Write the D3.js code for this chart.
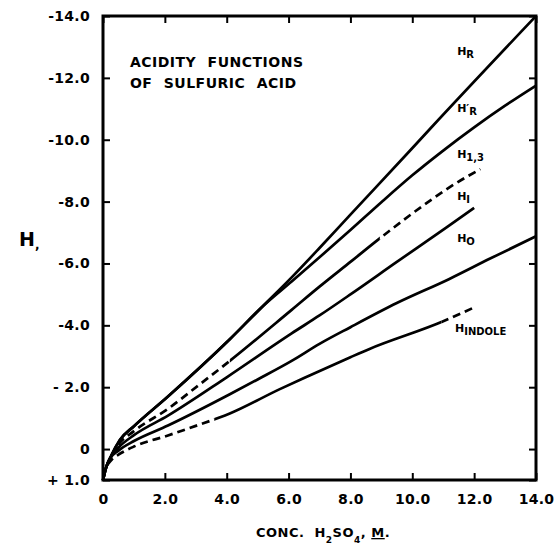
<!DOCTYPE html>
<html>
<head>
<meta charset="utf-8">
<script src="https://cdn.jsdelivr.net/npm/d3@7"></script>
<style>
  html, body { margin: 0; padding: 0; background: #fff; }
  svg { display: block; font-family: "DejaVu Sans", sans-serif; font-weight: bold; }
</style>
</head>
<body>
<svg id="chart" width="555" height="548"></svg>
<script>
// axis ticks
const xTicks = [0, 2, 4, 6, 8, 10, 12, 14];
const xTickLabels = ['0', '2.0', '4.0', '6.0', '8.0', '10.0', '12.0', '14.0'];
const yTicks = [-14, -12, -10, -8, -6, -4, -2, 0, 1];
const yTickLabels = ['-14.0', '-12.0', '-10.0', '-8.0', '-6.0', '-4.0', '- 2.0', '0', '+ 1.0'];

// acidity functions (conc. in M, H value)
const concR = [0, 0.1, 0.25, 0.55, 1.0, 2.1, 4.1, 5.2, 6.1, 7.0, 8.0, 9.9, 10.6, 14.0];
const hR = [1.0, 0.6, 0.25, -0.3, -0.74, -1.7, -3.55, -4.65, -5.55, -6.5, -7.58, -9.62, -10.38, -14.0];

const concRp = [0, 0.1, 0.25, 0.55, 1.0, 2.1, 4.1, 5.2, 6.1, 7.0, 8.0, 9.0, 10.0, 11.0, 12.0, 13.0, 14.0];
const hRp = [1.0, 0.6, 0.25, -0.3, -0.74, -1.7, -3.55, -4.65, -5.42, -6.2, -7.08, -7.98, -8.85, -9.65, -10.4, -11.1, -11.75];

const conc13 = [0, 0.1, 0.25, 0.5, 1.0, 2.1, 3.1, 4.1, 6.1, 7.0, 8.0, 9.0, 10.6, 11.2, 12.2];
const h13 = [1.0, 0.6, 0.25, -0.15, -0.58, -1.3, -2.07, -2.85, -4.5, -5.25, -6.05, -6.85, -8.05, -8.46, -9.05];

const concI = [0, 0.1, 0.25, 0.5, 1.0, 2.1, 4.0, 6.1, 7.0, 8.0, 9.5, 11.2, 12.0];
const hI = [1.0, 0.6, 0.25, -0.05, -0.45, -1.08, -2.32, -3.74, -4.32, -5.0, -6.05, -7.23, -7.8];

const concO = [0, 0.1, 0.25, 0.5, 1.0, 2.1, 4.1, 5.0, 6.1, 7.0, 8.0, 9.5, 11.2, 12.5, 14.0];
const hO = [1.0, 0.6, 0.28, 0.05, -0.26, -0.76, -1.77, -2.25, -2.85, -3.4, -3.94, -4.72, -5.5, -6.15, -6.88];

const concInd = [0.15, 0.3, 0.5, 1.0, 2.1, 3.0, 4.1, 5.7, 6.5, 8.0, 8.6, 11.0, 12.0];
const hInd = [0.5, 0.32, 0.18, -0.08, -0.44, -0.75, -1.15, -1.93, -2.3, -2.97, -3.23, -4.13, -4.58];

const series = [
  { x: concR, y: hR, dashed: [] },
  { x: concRp, y: hRp, dashed: [] },
  { x: conc13, y: h13, dashed: [[0, 4.1], [8.95, 12.3]] },
  { x: concI, y: hI, dashed: [] },
  { x: concO, y: hO, dashed: [] },
  { x: concInd, y: hInd, dashed: [[0, 3.6], [10.95, 12.2]] }
];

const width = 555;
const height = 548;
const margin = { top: 16, right: 19, bottom: 68, left: 103 };

const svg = d3.select('#chart');

const x = d3.scaleLinear().domain([0, 14]).range([margin.left, width - margin.right]);
const y = d3.scaleLinear().domain([1, -14]).range([height - margin.bottom, margin.top]);

// axes with inner ticks
svg.append('g')
  .attr('transform', `translate(0,${height - margin.bottom})`)
  .call(d3.axisBottom(x).tickValues(xTicks).tickSize(-7).tickPadding(14)
    .tickFormat((d, i) => xTickLabels[i]));

svg.append('g')
  .attr('transform', `translate(${margin.left},0)`)
  .call(d3.axisLeft(y).tickValues(yTicks).tickSize(-7).tickPadding(13)
    .tickFormat((d, i) => yTickLabels[i]));

svg.append('g')
  .attr('transform', `translate(0,${margin.top})`)
  .call(d3.axisTop(x).tickValues(xTicks).tickSize(-7).tickFormat(''));

svg.append('g')
  .attr('transform', `translate(${width - margin.right},0)`)
  .call(d3.axisRight(y).tickValues(yTicks).tickSize(-7).tickFormat(''));

svg.selectAll('.domain').remove();
svg.selectAll('.tick line').attr('stroke', '#000').attr('stroke-width', 2);
svg.selectAll('.tick text')
  .attr('fill', '#000')
  .attr('font-size', 14)
  .attr('letter-spacing', 0.3)
  .attr('font-family', '"DejaVu Sans", sans-serif')
  .attr('font-weight', 'bold');

// frame
svg.append('rect')
  .attr('x', margin.left)
  .attr('y', margin.top)
  .attr('width', width - margin.left - margin.right)
  .attr('height', height - margin.top - margin.bottom)
  .attr('fill', 'none')
  .attr('stroke', '#000')
  .attr('stroke-width', 3);

// clip paths for solid / dashed parts
const defs = svg.append('defs');
const plotTop = margin.top - 5;
const plotH = height - margin.top - margin.bottom + 10;

const line = d3.line()
  .x((d) => x(d[0]))
  .y((d) => y(d[1]))
  .curve(d3.curveMonotoneX);

series.forEach((s, i) => {
  const pts = s.x.map((v, j) => [v, s.y[j]]);
  // solid ranges are the gaps between dashed ranges
  const solid = [];
  let start = -1;
  s.dashed.forEach((r) => {
    solid.push([start, r[0]]);
    start = r[1];
  });
  solid.push([start, 15]);

  const solidClip = defs.append('clipPath').attr('id', `solid${i}`);
  solid.forEach((r) => {
    solidClip.append('rect')
      .attr('x', x(r[0])).attr('y', plotTop)
      .attr('width', x(r[1]) - x(r[0])).attr('height', plotH);
  });
  svg.append('path')
    .datum(pts)
    .attr('d', line)
    .attr('fill', 'none')
    .attr('stroke', '#000')
    .attr('stroke-width', 2.7)
    .attr('clip-path', `url(#solid${i})`);

  if (s.dashed.length) {
    const dashClip = defs.append('clipPath').attr('id', `dash${i}`);
    s.dashed.forEach((r) => {
      dashClip.append('rect')
        .attr('x', x(r[0])).attr('y', plotTop)
        .attr('width', x(r[1]) - x(r[0])).attr('height', plotH);
    });
    svg.append('path')
      .datum(pts)
      .attr('d', line)
      .attr('fill', 'none')
      .attr('stroke', '#000')
      .attr('stroke-width', 2.7)
      .attr('stroke-dasharray', '8,5')
      .attr('clip-path', `url(#dash${i})`);
  }
});

// curve labels: main letter + subscript
const labels = [
  { x: 11.45, y: -12.74, main: 'H', sub: 'R' },
  { x: 11.45, y: -10.9, main: 'H\u2032', sub: 'R' },
  { x: 11.45, y: -9.42, main: 'H', sub: '1,3' },
  { x: 11.45, y: -8.06, main: 'H', sub: 'I' },
  { x: 11.45, y: -6.71, main: 'H', sub: 'O' },
  { x: 11.38, y: -3.77, main: 'H', sub: 'INDOLE' }
];

labels.forEach((l) => {
  const t = svg.append('text')
    .attr('x', x(l.x))
    .attr('y', y(l.y))
    .attr('font-size', 11);
  t.append('tspan').text(l.main);
  t.append('tspan').attr('dy', 3).attr('font-size', 10).text(l.sub);
});

// title inside plot
svg.append('text')
  .attr('x', x(0.87)).attr('y', y(-12.35))
  .attr('font-size', 14).attr('letter-spacing', 0.5).attr('word-spacing', 6)
  .text('ACIDITY FUNCTIONS');
svg.append('text')
  .attr('x', x(0.87)).attr('y', y(-11.68))
  .attr('font-size', 14).attr('letter-spacing', 0.5).attr('word-spacing', 6)
  .text('OF SULFURIC ACID');

// y axis title
const yt = svg.append('text')
  .attr('x', 19).attr('y', 246)
  .attr('font-size', 19);
yt.append('tspan').text('H');
yt.append('tspan').attr('dy', 3).attr('font-size', 12).text(',');

// x axis title
const xt = svg.append('text')
  .attr('x', 256).attr('y', 537)
  .attr('font-size', 13).attr('letter-spacing', 0.5);
xt.append('tspan').text('CONC.');
xt.append('tspan').attr('dx', 10).text('H');
xt.append('tspan').attr('dy', 6).attr('font-size', 9).text('2');
xt.append('tspan').attr('dy', -6).text('SO');
xt.append('tspan').attr('dy', 6).attr('font-size', 9).text('4');
xt.append('tspan').attr('dy', -6).text(', ');
xt.append('tspan').attr('text-decoration', 'underline').text('M');
xt.append('tspan').text('.');
</script>
</body>
</html>
